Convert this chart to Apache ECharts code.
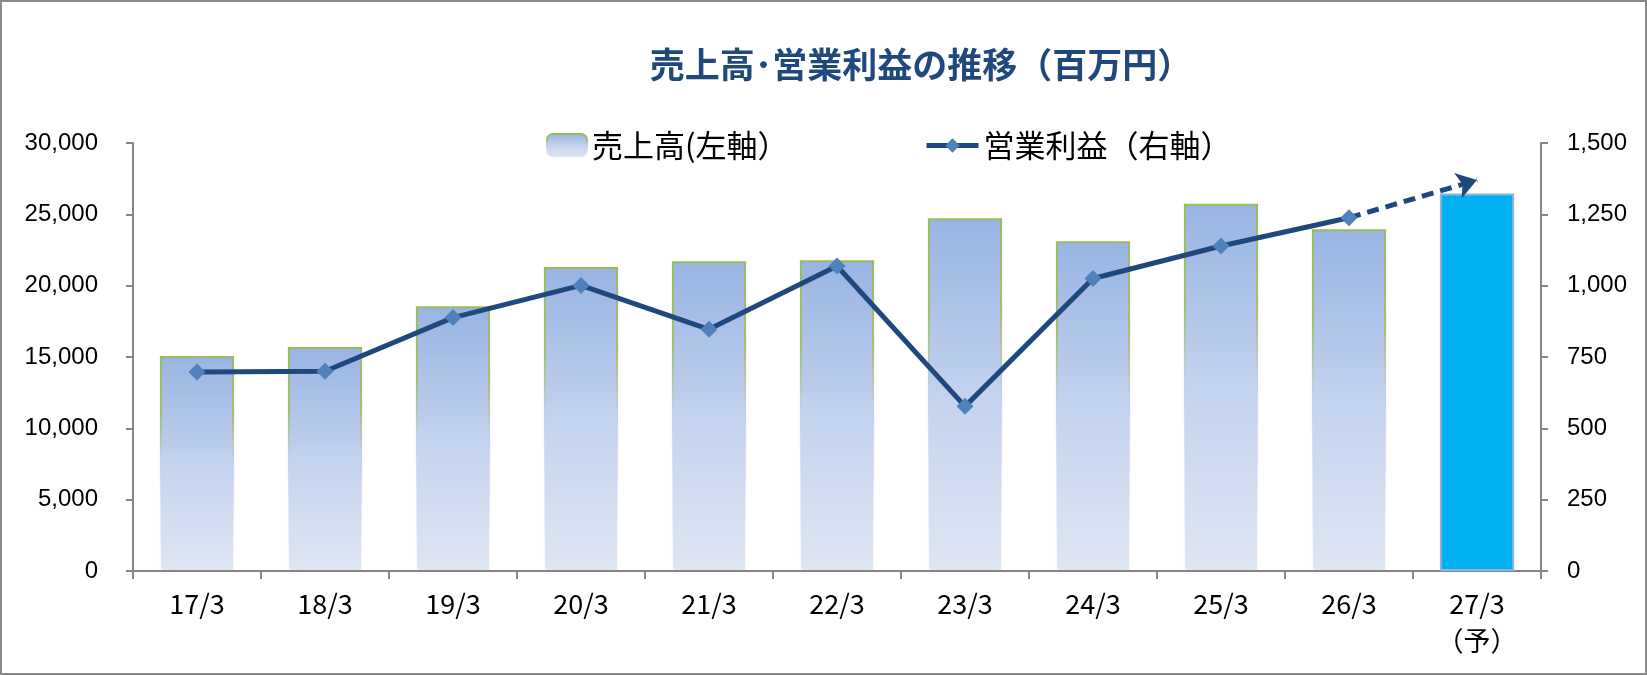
<!DOCTYPE html>
<html>
<head>
<meta charset="utf-8">
<script src="https://cdn.jsdelivr.net/npm/echarts@6/dist/echarts.min.js"></script>
<style>
html,body{margin:0;padding:0;background:#fff;}
#wrap{width:1647px;height:675px;box-sizing:border-box;border:2px solid #8a8a8a;position:relative;}
#chart{position:absolute;left:-2px;top:-2px;width:1647px;height:675px;}
</style>
</head>
<body>
<div id="wrap"><div id="chart"></div></div>
<script>
const categories = ['17/3','18/3','19/3','20/3','21/3','22/3','23/3','24/3','25/3','26/3','27/3\n（予）'];
const sales = [15070, 15700, 18560, 21310, 21710, 21780, 24730, 23110, 25750, 23950, 26460];
const opProfit = [697, 700, 888, 1001, 847, 1069, 577, 1025, 1139, 1238];
const forecastArrow = [1238, 1370];
const leftTicks = {min: 0, max: 30000, interval: 5000};
const rightTicks = {min: 0, max: 1500, interval: 250};

const chart = echarts.init(document.getElementById('chart'));
const fmt = v => v.toLocaleString('en-US');
const FONT = '"Noto Sans CJK JP", sans-serif';
const NUMFONT = '"Liberation Sans", Arial, sans-serif';

const barFill = new echarts.graphic.LinearGradient(0, 0, 0, 1, [
  {offset: 0, color: '#97b4e2'},
  {offset: 0.5, color: '#c3d2ee'},
  {offset: 1, color: '#e0e7f4'}
]);
const barBorder = new echarts.graphic.LinearGradient(0, 0, 0, 1, [
  {offset: 0, color: '#9bbb59'},
  {offset: 0.28, color: '#a5be6c'},
  {offset: 0.48, color: '#c0d0ea'},
  {offset: 1, color: 'rgba(224,231,244,0)'}
]);

const barData = sales.map((v, i) => {
  if (i === sales.length - 1) {
    return {value: v, itemStyle: {color: '#00b0f0', borderColor: '#8db3e2', borderWidth: 2}};
  }
  return v;
});

chart.setOption({
  animation: false,
  title: {
    text: '売上高･営業利益の推移（百万円）',
    left: 916, top: 42, textAlign: 'center',
    textStyle: {fontFamily: FONT, fontSize: 35, fontWeight: 'bold', color: '#1f497d'}
  },
  legend: [
    {
      data: ['売上高(左軸）'], left: 541, top: 125,
      itemWidth: 40, itemHeight: 23,
      textStyle: {fontFamily: FONT, fontSize: 31, color: '#000'}
    },
    {
      data: ['営業利益（右軸）'], left: 919, top: 125,
      itemWidth: 52, itemHeight: 18,
      lineStyle: {width: 5},
      textStyle: {fontFamily: FONT, fontSize: 31, color: '#000'}
    }
  ],
  grid: {left: 133, right: 106, top: 143, bottom: 104},
  xAxis: {
    type: 'category', data: categories, boundaryGap: true,
    axisLine: {lineStyle: {color: '#868686', width: 2}},
    axisTick: {show: true, length: 8, lineStyle: {color: '#868686', width: 2}},
    axisLabel: {fontFamily: FONT, fontSize: 27, color: '#000', margin: 14, lineHeight: 37, interval: 0}
  },
  yAxis: [
    {
      type: 'value', min: leftTicks.min, max: leftTicks.max, interval: leftTicks.interval,
      axisLine: {show: true, lineStyle: {color: '#868686', width: 2}},
      axisTick: {show: true, length: 7, lineStyle: {color: '#868686', width: 2}},
      splitLine: {show: false},
      axisLabel: {fontFamily: NUMFONT, fontSize: 24, color: '#000', margin: 35, formatter: fmt}
    },
    {
      type: 'value', min: rightTicks.min, max: rightTicks.max, interval: rightTicks.interval,
      axisLine: {show: true, lineStyle: {color: '#868686', width: 2}},
      axisTick: {show: true, length: 7, lineStyle: {color: '#868686', width: 2}},
      splitLine: {show: false},
      axisLabel: {fontFamily: NUMFONT, fontSize: 24, color: '#000', margin: 26, formatter: fmt}
    }
  ],
  series: [
    {
      name: '売上高(左軸）', type: 'bar', yAxisIndex: 0, barWidth: '58%',
      data: barData,
      itemStyle: {color: barFill, borderColor: barBorder, borderWidth: 2}
    },
    {
      name: '営業利益（右軸）', type: 'line', yAxisIndex: 1, z: 5,
      data: opProfit,
      symbol: 'diamond', symbolSize: 17,
      lineStyle: {color: '#1f497d', width: 5},
      itemStyle: {color: '#4f81bd'}
    },
    {
      type: 'lines', coordinateSystem: 'cartesian2d', xAxisIndex: 0, yAxisIndex: 1, z: 4,
      symbol: ['none', 'arrow'], symbolSize: 20,
      lineStyle: {color: '#1f497d', width: 5, type: [12, 7], opacity: 1, curveness: 0},
      data: [{coords: [[categories.length - 2, forecastArrow[0]], [categories.length - 1, forecastArrow[1]]]}]
    }
  ]
});
</script>
</body>
</html>
